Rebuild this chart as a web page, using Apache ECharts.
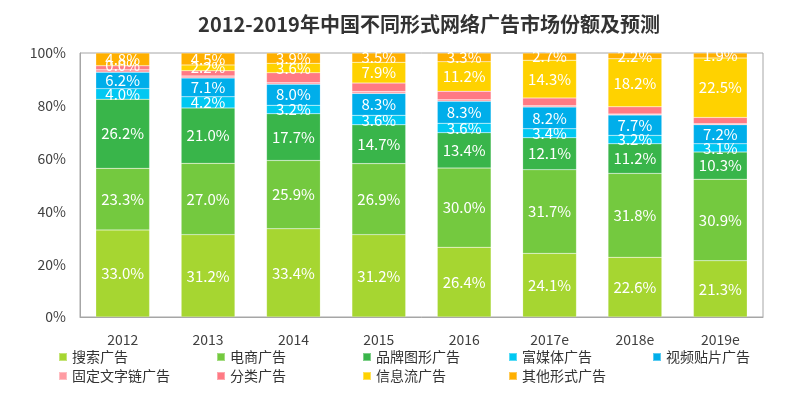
<!DOCTYPE html>
<html><head><meta charset="utf-8">
<script src="https://cdn.jsdelivr.net/npm/echarts@6/dist/echarts.min.js"></script>
<style>html,body{margin:0;padding:0;background:#fff}#c{width:804px;height:393px}</style>
</head><body><div id="c"></div>
<script>
const categories = ['2012','2013','2014','2015','2016','2017e','2018e','2019e'];
const yTicks = ['0%','20%','40%','60%','80%','100%'];
const search   = [33.0, 31.2, 33.4, 31.2, 26.4, 24.1, 22.6, 21.3];
const ecommerce= [23.3, 27.0, 25.9, 26.9, 30.0, 31.7, 31.8, 30.9];
const brand    = [26.2, 21.0, 17.7, 14.7, 13.4, 12.1, 11.2, 10.3];
const richMedia= [4.0, 4.2, 3.2, 3.6, 3.6, 3.4, 3.2, 3.1];
const video    = [6.2, 7.1, 8.0, 8.3, 8.3, 8.2, 7.7, 7.2];
const textLink = [1.0, 0.8, 0.5, 0.7, 0.6, 0.5, 0.4, 0.4];
const classified=[1.5, 2.0, 3.8, 3.2, 3.2, 3.0, 2.7, 2.4];
const feed     = [0.0, 2.2, 3.6, 7.9, 11.2, 14.3, 18.2, 22.5];
const other    = [4.8, 4.5, 3.9, 3.5, 3.3, 2.7, 2.2, 1.9];

const seriesDefs = [
  ['搜索广告', search, '#a6d631', true],
  ['电商广告', ecommerce, '#74c93f', true],
  ['品牌图形广告', brand, '#39b54a', true],
  ['富媒体广告', richMedia, '#00c8f2', true],
  ['视频贴片广告', video, '#00aeea', true],
  ['固定文字链广告', textLink, '#ff9ca3', false],
  ['分类广告', classified, '#ff7a84', false],
  ['信息流广告', feed, '#ffd200', true],
  ['其他形式广告', other, '#ffb000', true]
];
const FONT = '"Noto Sans CJK SC", "Noto Sans", sans-serif';
const series = seriesDefs.map(([name, data, color, showLabel]) => ({
  name, type: 'bar', stack: 'total', data, barWidth: '63%',
  itemStyle: { color, borderColor: 'rgba(255,255,255,0.35)', borderWidth: 0.5 },
  label: { show: showLabel, position: 'inside', color: '#fff', fontSize: 15, fontFamily: FONT,
    formatter: p => p.value.toFixed(1) + '%' }
}));

const legendPos = [
  [58, 350], [216, 350], [362, 350], [508, 350], [652, 350],
  [58, 369], [216, 369], [362, 369], [508, 369]
];
const legends = seriesDefs.map(([name], i) => ({
  data: [name], left: legendPos[i][0], top: legendPos[i][1],
  itemWidth: 8, itemHeight: 8, icon: 'rect', padding: 0, itemGap: 0,
  textStyle: { fontSize: 14, color: '#333', fontFamily: FONT, padding: [0,0,0,0] }
}));

const chart = echarts.init(document.getElementById('c'), null, { renderer: 'canvas' });
chart.setOption({
  animation: false,
  title: { text: '2012-2019年中国不同形式网络广告市场份额及预测', left: 424, top: 9, textAlign: 'center',
    textStyle: { fontSize: 20, fontWeight: 'bold', color: '#333', fontFamily: FONT } },
  legend: legends,
  grid: { left: 80, right: 41, top: 53, bottom: 76, show: true, borderColor: '#a6a6a6', borderWidth: 1 },
  xAxis: { type: 'category', data: categories,
    axisLine: { lineStyle: { color: '#a6a6a6' } }, axisTick: { show: false },
    axisLabel: { color: '#404040', fontSize: 14, margin: 16, fontFamily: FONT } },
  yAxis: { type: 'value', min: 0, max: 100, interval: 20,
    splitLine: { show: false }, axisLine: { show: true, lineStyle: { color: '#a6a6a6' } }, axisTick: { show: false },
    axisLabel: { color: '#404040', fontSize: 14, margin: 14, fontFamily: FONT,
      formatter: v => yTicks[Math.round(v / 20)] } },
  series
});
</script></body></html>
